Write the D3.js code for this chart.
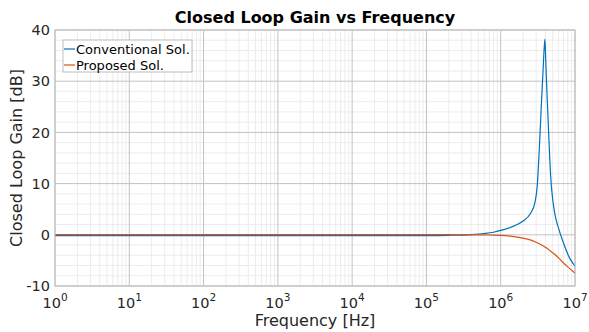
<!DOCTYPE html>
<html>
<head>
<meta charset="utf-8">
<script src="https://cdn.jsdelivr.net/npm/d3@7"></script>
<style>
  body { margin: 0; background: #fff; }
  svg { display: block; font-family: "DejaVu Sans", sans-serif; }
</style>
</head>
<body>
<div id="chart"></div>
<script>
// frequency points [Hz]
const freq = [1, 10, 100, 1e3, 1e4, 1e5, 2e5, 4e5, 6e5, 8e5, 1e6, 1.5e6, 2e6, 2.5e6, 2.9e6,
  3.1e6, 3.3e6, 3.5e6, 3.7e6, 3.85e6, 3.94e6, 4.05e6, 4.2e6, 4.4e6, 4.7e6, 5e6, 5.4e6,
  6e6, 7e6, 8.5e6, 1e7];
// closed loop gain [dB]
const conventional = [-0.15, -0.15, -0.15, -0.15, -0.15, -0.15, -0.1, 0.05, 0.25, 0.5, 0.85,
  1.7, 2.7, 4.1, 6.4, 9.5, 16.5, 24.5, 31.5, 36.5, 38.2, 33.5, 27.5, 20.5, 11.5, 7.0, 3.8,
  1.3, -1.6, -4.6, -6.1];
const proposed = [0.02, 0.02, 0.02, 0.02, 0.02, 0.02, 0.02, 0, -0.03, -0.05, -0.1,
  -0.35, -0.65, -1.0, -1.35, -1.55, -1.75, -1.95, -2.15, -2.3, -2.4, -2.5, -2.65, -2.85,
  -3.2, -3.5, -3.9, -4.5, -5.5, -6.6, -7.5];
const seriesNames = ["Conventional Sol.", "Proposed Sol."];
const yTicks = [-10, 0, 10, 20, 30, 40];
const xTicks = [1, 10, 100, 1e3, 1e4, 1e5, 1e6, 1e7];

const width = 589, height = 332;
const margin = {top: 30, right: 14, bottom: 46, left: 55};

const svg = d3.select("#chart")
    .append("svg")
    .attr("width", width)
    .attr("height", height);

const x = d3.scaleLog()
    .domain([1, 1e7])
    .range([margin.left, width - margin.right]);

const y = d3.scaleLinear()
    .domain([-10, 40])
    .range([height - margin.bottom, margin.top]);

const g = svg.append("g");

// minor grid
const minorX = [];
for (let e = 0; e < 7; e++) {
    for (let m = 2; m <= 9; m++) minorX.push(m * Math.pow(10, e));
}
const minorY = d3.range(-10, 40.1, 2).filter(v => v % 10 !== 0);

g.selectAll(".minx")
    .data(minorX)
    .join("line")
    .attr("x1", d => x(d)).attr("x2", d => x(d))
    .attr("y1", y(-10)).attr("y2", y(40))
    .attr("stroke", "#ececec")
    .attr("stroke-width", 1);

g.selectAll(".miny")
    .data(minorY)
    .join("line")
    .attr("x1", x(1)).attr("x2", x(1e7))
    .attr("y1", d => y(d)).attr("y2", d => y(d))
    .attr("stroke", "#ececec")
    .attr("stroke-width", 1);

// major grid
g.selectAll(".majx")
    .data(xTicks)
    .join("line")
    .attr("x1", d => x(d)).attr("x2", d => x(d))
    .attr("y1", y(-10)).attr("y2", y(40))
    .attr("stroke", "#c2c2c2")
    .attr("stroke-width", 1);

g.selectAll(".majy")
    .data(yTicks)
    .join("line")
    .attr("x1", x(1)).attr("x2", x(1e7))
    .attr("y1", d => y(d)).attr("y2", d => y(d))
    .attr("stroke", "#c2c2c2")
    .attr("stroke-width", 1);

// curves
const colors = ["#0072BD", "#D95319"];
const line = d3.line()
    .x(d => x(d[0]))
    .y(d => y(d[1]))
    .curve(d3.curveMonotoneX);

[conventional, proposed].forEach((vals, i) => {
    g.append("path")
        .datum(freq.map((f, k) => [f, vals[k]]))
        .attr("fill", "none")
        .attr("stroke", colors[i])
        .attr("stroke-width", 1.2)
        .attr("d", line);
});

// box
g.append("rect")
    .attr("x", x(1)).attr("y", y(40))
    .attr("width", x(1e7) - x(1))
    .attr("height", y(-10) - y(40))
    .attr("fill", "none")
    .attr("stroke", "#bdbdbd")
    .attr("stroke-width", 1);

// y tick labels
g.selectAll(".ylab")
    .data(yTicks)
    .join("text")
    .attr("x", margin.left - 5)
    .attr("y", d => y(d))
    .attr("dy", "0.36em")
    .attr("text-anchor", "end")
    .attr("font-size", "14.5px")
    .attr("fill", "#262626")
    .text(d => d);

// x tick labels 10^n
const xl = g.selectAll(".xlab")
    .data(xTicks)
    .join("text")
    .attr("x", d => x(d))
    .attr("y", 308)
    .attr("text-anchor", "middle")
    .attr("font-size", "14.5px")
    .attr("fill", "#262626");
xl.append("tspan").text("10");
xl.append("tspan")
    .attr("dy", "-7")
    .attr("font-size", "10.5px")
    .text(d => Math.round(Math.log10(d)));

// title and axis labels
svg.append("text")
    .attr("x", (x(1) + x(1e7)) / 2)
    .attr("y", 23)
    .attr("text-anchor", "middle")
    .attr("font-size", "16px")
    .attr("font-weight", "bold")
    .attr("fill", "#000")
    .text("Closed Loop Gain vs Frequency");

svg.append("text")
    .attr("x", (x(1) + x(1e7)) / 2)
    .attr("y", 326)
    .attr("text-anchor", "middle")
    .attr("font-size", "16px")
    .attr("fill", "#262626")
    .text("Frequency [Hz]");

svg.append("text")
    .attr("transform", `translate(22,${(y(-10) + y(40)) / 2}) rotate(-90)`)
    .attr("text-anchor", "middle")
    .attr("font-size", "16px")
    .attr("fill", "#262626")
    .text("Closed Loop Gain [dB]");

// legend
const lg = svg.append("g").attr("transform", "translate(63,40)");
lg.append("rect")
    .attr("width", 129).attr("height", 32)
    .attr("fill", "#fff")
    .attr("stroke", "#bdbdbd")
    .attr("stroke-width", 1);
seriesNames.forEach((name, i) => {
    const yy = 9 + i * 16;
    lg.append("line")
        .attr("x1", 1).attr("x2", 12)
        .attr("y1", yy).attr("y2", yy)
        .attr("stroke", colors[i])
        .attr("stroke-width", 1.2);
    lg.append("text")
        .attr("x", 13)
        .attr("y", yy)
        .attr("dy", "0.36em")
        .attr("font-size", "13px")
        .attr("fill", "#000")
        .text(name);
});
</script>
</body>
</html>
